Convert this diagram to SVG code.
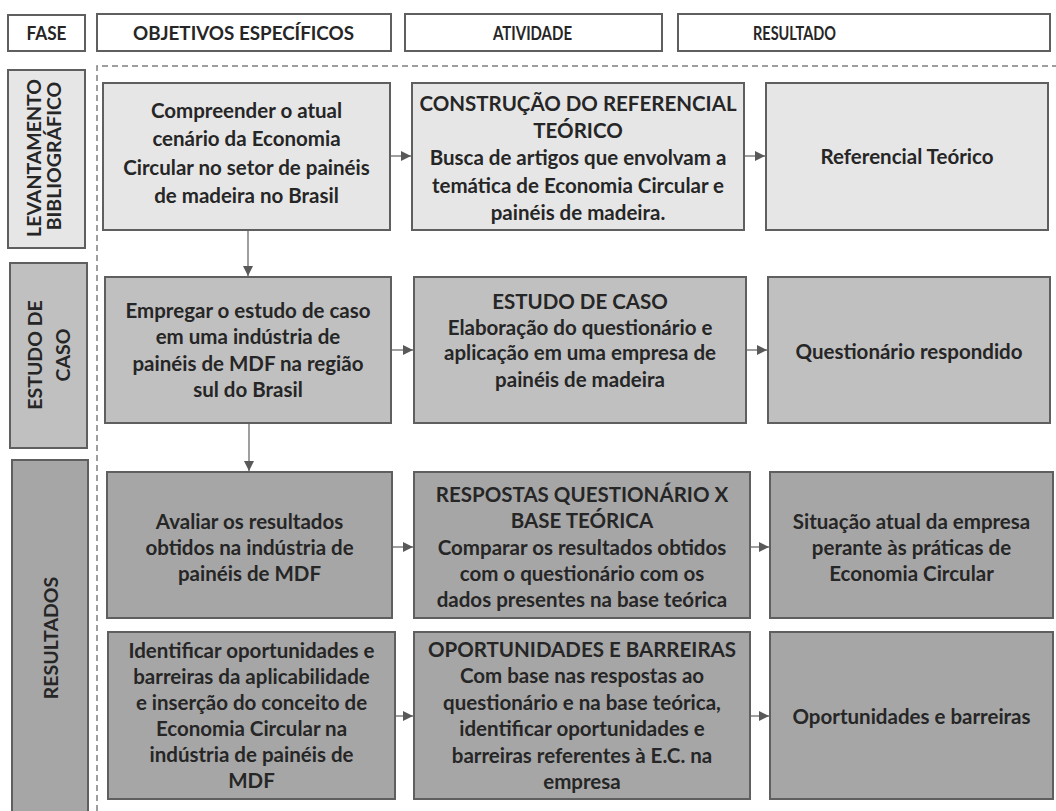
<svg xmlns="http://www.w3.org/2000/svg" width="1056" height="811" viewBox="0 0 1056 811">
<defs>
<style>
.box{stroke:#5f5f5f;stroke-width:2}
.hdr{fill:#fff;stroke:#5f5f5f;stroke-width:2}
.l1{fill:#e6e6e6}
.l2{fill:#c0c0c0}
.l3{fill:#a6a6a6}
text{font-family:Lato,"Liberation Sans",sans-serif;font-weight:bold;fill:#262626;text-anchor:middle}
.t{font-size:20.5px}
.p{font-size:19.5px}
.h{font-size:19.5px;font-weight:bold}
.conn{stroke:#7f7f7f;stroke-width:1.5;fill:none}
.dash{stroke:#7f7f7f;stroke-width:1.5;stroke-dasharray:6 4;fill:none}
</style>
<marker id="arr" viewBox="0 0 10 10" refX="10" refY="5" markerWidth="10" markerHeight="10" markerUnits="userSpaceOnUse" orient="auto">
<path d="M0,0 L10,5 L0,10 z" fill="#595959"/>
</marker>
</defs>
<rect width="1056" height="811" fill="#fff"/>

<g id="headers">
<g id="h-fase"><rect class="hdr" x="8" y="15" width="77" height="36"/><text class="h" x="46.5" y="40" textLength="40" lengthAdjust="spacingAndGlyphs">FASE</text></g>
<g id="h-obj"><rect class="hdr" x="97" y="14" width="294" height="37"/><text class="h" x="243.5" y="40" textLength="221" lengthAdjust="spacingAndGlyphs">OBJETIVOS ESPECÍFICOS</text></g>
<g id="h-ativ"><rect class="hdr" x="405" y="14" width="257" height="37"/><text class="h" x="532.5" y="40" textLength="79" lengthAdjust="spacingAndGlyphs">ATIVIDADE</text></g>
<g id="h-res"><rect class="hdr" x="678" y="14" width="372" height="37"/><text class="h" x="794.5" y="40" textLength="83" lengthAdjust="spacingAndGlyphs">RESULTADO</text></g>
</g>

<g id="frame">
<path class="dash" d="M97,811 L97,66 L1056,66"/>
</g>

<g id="phase-levantamento">
<rect class="box l1" x="8" y="70" width="77" height="178"/>
<text class="p" transform="translate(34,158) rotate(-90)" y="7">LEVANTAMENTO</text>
<text class="p" transform="translate(54,156) rotate(-90)" y="7">BIBLIOGRÁFICO</text>
</g>
<g id="phase-estudo">
<rect class="box l2" x="10" y="263" width="77" height="185"/>
<text class="p" transform="translate(34.5,355) rotate(-90)" y="7">ESTUDO DE</text>
<text class="p" transform="translate(62.5,355) rotate(-90)" y="7">CASO</text>
</g>
<g id="phase-resultados">
<rect class="box l3" x="12" y="460" width="76" height="370"/>
<text class="p" transform="translate(50.5,638) rotate(-90)" y="7">RESULTADOS</text>
</g>

<g id="obj1">
<rect class="box l1" x="103" y="83" width="287" height="147"/>
<text class="t"><tspan x="246.5" y="117.5">Compreender o atual</tspan><tspan x="246.5" y="146">cenário da Economia</tspan><tspan x="246.5" y="175">Circular no setor de painéis</tspan><tspan x="246.5" y="203">de madeira no Brasil</tspan></text>
</g>
<g id="act1">
<rect class="box l1" x="412" y="83" width="332" height="147"/>
<text class="t"><tspan x="578" y="110.5">CONSTRUÇÃO DO REFERENCIAL</tspan><tspan x="578" y="137.5">TEÓRICO</tspan><tspan x="578" y="165">Busca de artigos que envolvam a</tspan><tspan x="578" y="192.5">temática de Economia Circular e</tspan><tspan x="578" y="219.5">painéis de madeira.</tspan></text>
</g>
<g id="res1">
<rect class="box l1" x="766" y="83" width="282" height="147"/>
<text class="t" x="907" y="163.5">Referencial Teórico</text>
</g>

<g id="obj2">
<rect class="box l2" x="105" y="277" width="286" height="146"/>
<text class="t"><tspan x="248" y="318">Empregar o estudo de caso</tspan><tspan x="248" y="344">em uma indústria de</tspan><tspan x="248" y="370.5">painéis de MDF na região</tspan><tspan x="248" y="397">sul do Brasil</tspan></text>
</g>
<g id="act2">
<rect class="box l2" x="414" y="277" width="332" height="146"/>
<text class="t"><tspan x="580" y="308.5">ESTUDO DE CASO</tspan><tspan x="580" y="334.5">Elaboração do questionário e</tspan><tspan x="580" y="360">aplicação em uma empresa de</tspan><tspan x="580" y="386.5">painéis de madeira</tspan></text>
</g>
<g id="res2">
<rect class="box l2" x="768" y="277" width="282" height="146"/>
<text class="t" x="909" y="358.5">Questionário respondido</text>
</g>

<g id="obj3">
<rect class="box l3" x="107" y="472" width="285" height="146"/>
<text class="t"><tspan x="249.5" y="528.5">Avaliar os resultados</tspan><tspan x="249.5" y="554.5">obtidos na indústria de</tspan><tspan x="249.5" y="580.5">painéis de MDF</tspan></text>
</g>
<g id="act3">
<rect class="box l3" x="414" y="472" width="336" height="146"/>
<text class="t"><tspan x="582" y="501.5">RESPOSTAS QUESTIONÁRIO X</tspan><tspan x="582" y="527.5">BASE TEÓRICA</tspan><tspan x="582" y="554.5">Comparar os resultados obtidos</tspan><tspan x="582" y="580.5">com o questionário com os</tspan><tspan x="582" y="606.5">dados presentes na base teórica</tspan></text>
</g>
<g id="res3">
<rect class="box l3" x="770" y="472" width="283" height="146"/>
<text class="t"><tspan x="911.5" y="529">Situação atual da empresa</tspan><tspan x="911.5" y="555">perante às práticas de</tspan><tspan x="911.5" y="581">Economia Circular</tspan></text>
</g>

<g id="obj4">
<rect class="box l3" x="108" y="632" width="287" height="167"/>
<text class="t"><tspan x="251.5" y="657.5">Identificar oportunidades e</tspan><tspan x="251.5" y="683.5">barreiras da aplicabilidade</tspan><tspan x="251.5" y="709.5">e inserção do conceito de</tspan><tspan x="251.5" y="735.5">Economia Circular na</tspan><tspan x="251.5" y="761.5">indústria de painéis de</tspan><tspan x="251.5" y="787.5">MDF</tspan></text>
</g>
<g id="act4">
<rect class="box l3" x="414" y="632" width="336" height="167"/>
<text class="t"><tspan x="582" y="656.5">OPORTUNIDADES E BARREIRAS</tspan><tspan x="582" y="683">Com base nas respostas ao</tspan><tspan x="582" y="709.5">questionário e na base teórica,</tspan><tspan x="582" y="736">identificar oportunidades e</tspan><tspan x="582" y="762.5">barreiras referentes à E.C. na</tspan><tspan x="582" y="788.5">empresa</tspan></text>
</g>
<g id="res4">
<rect class="box l3" x="770" y="632" width="283" height="167"/>
<text class="t" x="911.5" y="723.5">Oportunidades e barreiras</text>
</g>

<g id="connectors">
<line class="conn" x1="391" y1="156" x2="411" y2="156" marker-end="url(#arr)"/>
<line class="conn" x1="745" y1="156" x2="765" y2="156" marker-end="url(#arr)"/>
<line class="conn" x1="392" y1="350" x2="413" y2="350" marker-end="url(#arr)"/>
<line class="conn" x1="747" y1="350" x2="767" y2="350" marker-end="url(#arr)"/>
<line class="conn" x1="393" y1="547" x2="413" y2="547" marker-end="url(#arr)"/>
<line class="conn" x1="751" y1="547" x2="769" y2="547" marker-end="url(#arr)"/>
<line class="conn" x1="396" y1="716" x2="413" y2="716" marker-end="url(#arr)"/>
<line class="conn" x1="751" y1="716" x2="769" y2="716" marker-end="url(#arr)"/>
<line class="conn" x1="248" y1="231" x2="248" y2="276" marker-end="url(#arr)"/>
<line class="conn" x1="249" y1="424" x2="249" y2="471" marker-end="url(#arr)"/>
</g>
</svg>
